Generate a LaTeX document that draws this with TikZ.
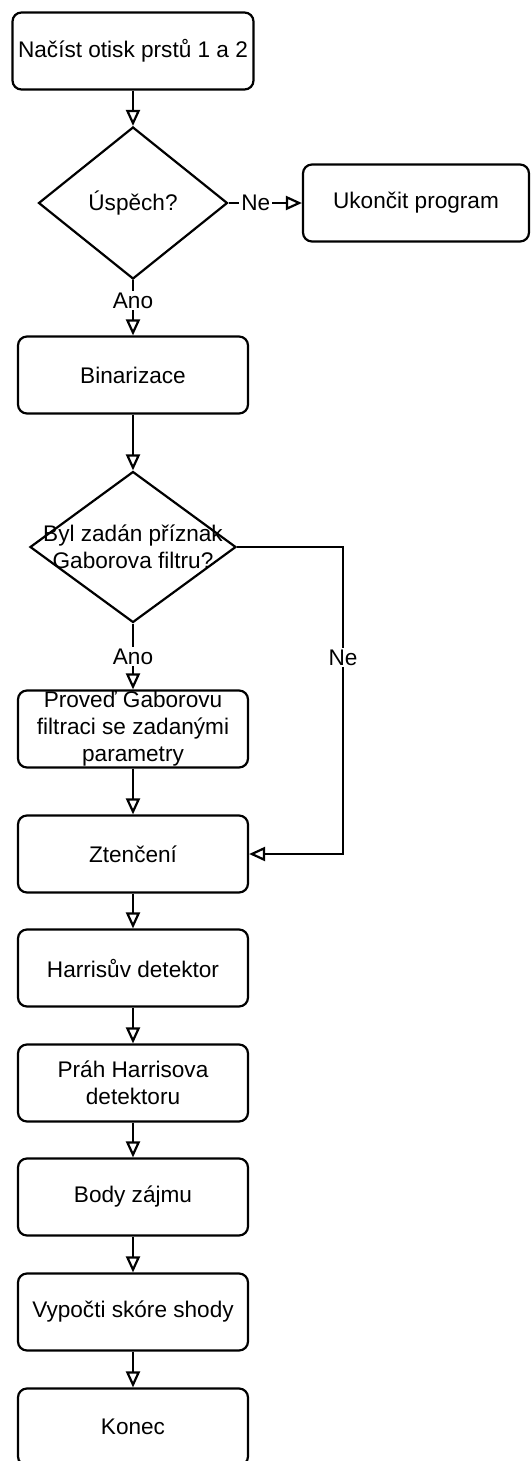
\documentclass[tikz,border=0pt]{standalone}
\usepackage{fontspec}
\setmainfont{Liberation Sans}
\usetikzlibrary{arrows.meta, shapes.geometric, positioning}

\tikzset{
	krok/.style={rectangle, draw, rounded corners=4.5pt, minimum width=115pt,
		minimum height=38.5pt, inner xsep=2pt, inner ysep=0pt, align=center},
	rozhod/.style={diamond, draw, inner sep=0pt},
	popis/.style={fill=white, inner sep=1pt}
}

\begin{document}
\begin{tikzpicture}[->,>={Triangle[open,length=8pt,width=7pt]},
		line width=1.1pt, font=\fontsize{11.3}{13.5}\selectfont]

		\useasboundingbox (0,0) rectangle (265pt,-730.5pt);

		\node[krok, minimum width=120.5pt] (nacist) at (66.5pt,-25.5pt) {Načíst otisk prstů 1 a 2};
		\node[rozhod, minimum width=94.5pt, minimum height=76pt] (uspech) [below of=nacist, node distance=76pt] {Úspěch?};
		\node[krok, minimum width=113pt] (konci) [right of=uspech, node distance=141.5pt] {Ukončit program};
		\node[krok] (binar) [below of=uspech, node distance=86pt] {Binarizace};
		\node[rozhod, minimum width=103pt, minimum height=75.5pt,
			label={[align=center]center:Byl zadán příznak\\Gaborova filtru?}] (gdotaz) [below of=binar, node distance=86pt] {};
		\node[krok] (gfiltr) [below of=gdotaz, node distance=91pt] {Proveď Gaborovu\\filtraci se zadanými\\parametry};
		\node[krok] (zten) [below of=gfiltr, node distance=62.5pt] {Ztenčení};
		\node[krok] (harris) [below of=zten, node distance=57pt] {Harrisův detektor};
		\node[krok] (prah) [below of=harris, node distance=57.5pt] {Práh Harrisova\\detektoru};
		\node[krok] (body) [below of=prah, node distance=57pt] {Body zájmu};
		\node[krok] (skore) [below of=body, node distance=57.5pt] {Vypočti skóre shody};
		\node[krok] (konec) [below of=skore, node distance=57.5pt] {Konec};

		\path (nacist) edge (uspech);
		\path (uspech) edge node[popis, pos=0.37] {Ne} (konci);
		\path (uspech) edge node[popis, pos=0.37] {Ano} (binar);
		\path (binar) edge (gdotaz);
		\path (gdotaz) edge node[popis, pos=0.5] {Ano} (gfiltr);
		\draw (gdotaz.east) -- ++(53pt,0) |- node[popis, pos=0.18] {Ne} (zten.east);
		\path (gfiltr) edge (zten);
		\path (zten) edge (harris);
		\path (harris) edge (prah);
		\path (prah) edge (body);
		\path (body) edge (skore);
		\path (skore) edge (konec);

	\end{tikzpicture}
\end{document}
